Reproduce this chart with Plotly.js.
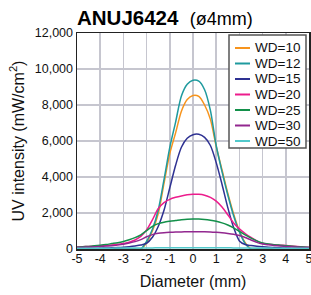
<!DOCTYPE html>
<html>
<head>
<meta charset="utf-8">
<script src="https://cdn.plot.ly/plotly-3.0.1.min.js"></script>
<style>html,body{margin:0;padding:0;background:#fff;}#chart{width:311px;height:295px;}</style>
</head>
<body>
<div id="chart"></div>
<script>
// Diameter positions (mm)
const diameter = [-5,-4.75,-4.5,-4.25,-4,-3.75,-3.5,-3.25,-3,-2.75,-2.5,-2.25,-2,-1.75,-1.5,-1.25,-1,-0.75,-0.5,-0.25,0,0.25,0.5,0.75,1,1.25,1.5,1.75,2,2.25,2.5,2.75,3,3.25,3.5,3.75,4,4.25,4.5,4.75,5];

const seriesNames = ['WD=10','WD=12','WD=15','WD=20','WD=25','WD=30','WD=50'];
const seriesColors = ['#f7941d','#1f9a9e','#2e3192','#ec1c8c','#13904a','#92278f','#52c9cb'];

const wd10 = [0,0,0,0,0,0,0,0,0,0,0,0,350,1000,1950,3650,5300,6450,7650,8300,8530,8480,8000,7200,5700,4400,3100,1950,1000,350,0,0,0,0,0,0,0,0,0,0,0];
const wd12 = [0,0,0,0,0,0,0,0,0,0,0,0,420,1100,2150,3850,5650,7050,8500,9150,9380,9330,8850,7700,5750,4300,3000,1850,950,300,0,0,0,0,0,0,0,0,0,0,0];
const wd15 = [30,30,35,40,45,55,65,80,100,130,170,220,320,650,1250,2150,3400,4650,5650,6150,6350,6370,6200,5750,4800,3600,2300,1200,450,250,190,150,120,95,80,65,55,45,40,35,30];
const wd20 = [110,125,140,160,180,200,225,260,300,380,500,700,1060,1620,2240,2580,2760,2870,2950,3010,3040,3040,2990,2870,2660,2330,1900,1450,1120,860,640,450,320,270,240,215,190,160,135,115,95];
const wd25 = [100,120,145,175,210,250,300,350,420,510,630,790,1020,1260,1410,1490,1540,1580,1620,1650,1660,1660,1640,1600,1540,1450,1330,1170,980,780,600,450,340,280,240,210,180,155,130,110,90];
const wd30 = [90,100,110,125,140,160,180,215,260,330,410,520,680,800,870,905,925,940,950,955,960,960,955,945,925,900,865,820,750,640,500,370,280,230,190,160,140,120,105,90,80];
const wd50 = [40,40,42,43,45,46,48,50,52,54,56,58,60,62,63,64,65,66,66,67,67,67,66,66,65,64,63,62,60,58,56,54,52,50,48,46,45,43,42,40,40];

const xTickVals = [-5,-4,-3,-2,-1,0,1,2,3,4,5];
const xTickText = ['-5','-4','-3','-2','-1','0','1','2','3','4','5'];
const yTickVals = [0,2000,4000,6000,8000,10000,12000];
const yTickText = ['0','2,000','4,000','6,000','8,000','10,000','12,000'];

const allSeries = [wd10, wd12, wd15, wd20, wd25, wd30, wd50];
const FONT = 'Liberation Sans, Arial, Helvetica, sans-serif';

const traces = allSeries.map((vals, i) => ({
  type: 'scatter', mode: 'lines', name: seriesNames[i],
  x: diameter, y: vals,
  line: {color: seriesColors[i], width: 1.5, shape: 'spline', smoothing: 0.8},
  showlegend: false, hoverinfo: 'skip'
}));

// plot area in pixels: left 77, right 309, top 33, bottom 249
const PL = 77, PR = 309, PT = 33, PB = 249;
const px2x = p => (p - PL) / (PR - PL);
const px2y = p => (PB - p) / (PB - PT);

const shapes = [{
  type: 'rect', xref: 'paper', yref: 'paper', layer: 'above',
  x0: px2x(229), x1: px2x(306), y0: px2y(148), y1: px2y(35),
  line: {color: '#555', width: 1.5}, fillcolor: '#fff'
}];
const annotations = [];
seriesNames.forEach((nm, i) => {
  const yc = 48 + 15.5 * i;
  shapes.push({type: 'line', xref: 'paper', yref: 'paper', layer: 'above',
    x0: px2x(235), x1: px2x(250), y0: px2y(yc), y1: px2y(yc),
    line: {color: seriesColors[i], width: 2}});
  annotations.push({xref: 'paper', yref: 'paper', x: px2x(253), y: px2y(yc),
    xanchor: 'left', yanchor: 'middle', showarrow: false, text: nm,
    font: {family: FONT, size: 13.5, color: '#111'}});
});

const layout = {
  width: 311, height: 295,
  margin: {l: 77, r: 2, t: 33, b: 46, pad: 0},
  paper_bgcolor: '#fff', plot_bgcolor: '#fff',
  font: {family: FONT, size: 12, color: '#111'},
  title: {
    text: '<b>ANUJ6424</b>  <span style="font-size:18px">(ø4mm)</span>',
    font: {family: FONT, size: 20.5, color: '#000'},
    xref: 'paper', x: 0, xanchor: 'left',
    yref: 'container', y: 1 - 18.3 / 295, yanchor: 'middle'
  },
  xaxis: {
    range: [-5, 5], tickmode: 'array', tickvals: xTickVals, ticktext: xTickText,
    showgrid: true, gridcolor: '#c6c6cf', gridwidth: 1.5,
    showline: true, linecolor: '#222', linewidth: 1.5, mirror: true,
    ticks: '', zeroline: false, ticklabeloverflow: 'allow', ticklabelstandoff: -3,
    tickfont: {family: FONT, size: 12.5, color: '#111'},
    title: {text: 'Diameter (mm)', font: {family: FONT, size: 16, color: '#111'}, standoff: 11}
  },
  yaxis: {
    range: [0, 12000], tickmode: 'array', tickvals: yTickVals, ticktext: yTickText,
    showgrid: true, gridcolor: '#c6c6cf', gridwidth: 1.5,
    showline: true, linecolor: '#222', linewidth: 1.5, mirror: true,
    ticks: '', zeroline: false,
    tickfont: {family: FONT, size: 12.5, color: '#111'},
    title: {text: 'UV intensity (mW/cm<sup>2</sup>)', font: {family: FONT, size: 16, color: '#111'}, standoff: 6}
  },
  showlegend: false,
  shapes: shapes,
  annotations: annotations
};

Plotly.newPlot('chart', traces, layout, {staticPlot: true, displayModeBar: false});
</script>
</body>
</html>
